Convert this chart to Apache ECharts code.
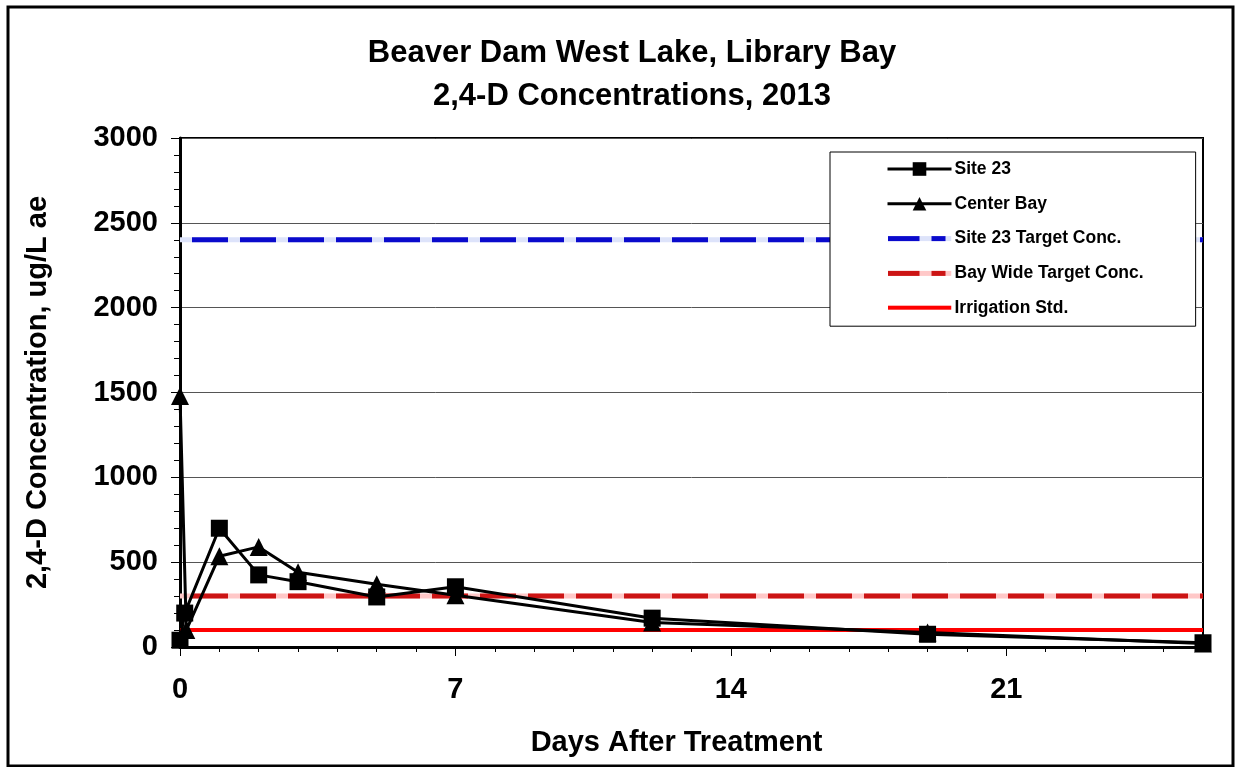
<!DOCTYPE html>
<html>
<head>
<meta charset="utf-8">
<script src="https://cdn.jsdelivr.net/npm/echarts@6/dist/echarts.min.js"></script>
<style>
html,body{margin:0;padding:0;background:#fff;}
#chart{width:1236px;height:767px;}
</style>
</head>
<body>
<div id="chart"></div>
<script>
// ---- Data ----
const titleLines = ['Beaver Dam West Lake, Library Bay', '2,4-D Concentrations, 2013'];
const xAxisName = 'Days After Treatment';
const yAxisName = '2,4-D Concentration, ug/L ae';
const xTickLabels = [0, 7, 14, 21];
const yTickValues = [0, 500, 1000, 1500, 2000, 2500, 3000];

const site23Days   = [0, 0.12, 1, 2, 3, 5, 7, 12, 19, 26];
const site23Values = [40, 200, 700, 425, 385, 295, 355, 170, 75, 25];

const centerBayDays   = [0, 0.16, 1, 2, 3, 5, 7, 12, 19, 26];
const centerBayValues = [1480, 100, 535, 590, 440, 370, 305, 145, 85, 20];

const refDays = [0, 26];
const site23Target = 2400;
const bayWideTarget = 300;
const irrigationStd = 100;

const seriesNames = ['Site 23', 'Center Bay', 'Site 23 Target Conc.', 'Bay Wide Target Conc.', 'Irrigation Std.'];

// ---- Build ----
const zip = (xs, ys) => xs.map((x, i) => [x, ys[i]]);
const flat = (v) => refDays.map(d => [d, v]);
const FONT = "'Liberation Sans', Arial, sans-serif";

function dashIcon(dark, light) {
  const svg = '<svg xmlns="http://www.w3.org/2000/svg" width="64" height="17" viewBox="0 0 64 17">' +
    (light ? '<rect x="0" y="6" width="64" height="5" fill="' + light + '"/>' : '') +
    (light
      ? '<rect x="0" y="6" width="32" height="5" fill="' + dark + '"/><rect x="44" y="6" width="14" height="5" fill="' + dark + '"/>'
      : '<rect x="0" y="6" width="64" height="4" fill="' + dark + '"/>') +
    '</svg>';
  return 'image://data:image/svg+xml;charset=utf-8,' + encodeURIComponent(svg);
}

const chart = echarts.init(document.getElementById('chart'), null, {renderer: 'canvas'});

const option = {
  backgroundColor: '#ffffff',
  animation: false,
  title: {
    text: titleLines.join('\n'),
    left: 627,
    textAlign: 'center',
    top: 27,
    textStyle: {fontFamily: FONT, fontSize: 31, fontWeight: 'bold', color: '#000', lineHeight: 43}
  },
  graphic: [{
    type: 'rect',
    shape: {x: 8, y: 7, width: 1225, height: 759},
    style: {fill: 'none', stroke: '#000', lineWidth: 3},
    silent: true, z: -1
  }],
  legend: {
    orient: 'vertical',
    left: 830,
    top: 152,
    data: [
      {name: seriesNames[0], lineStyle: {width: 3, color: '#000'}},
      {name: seriesNames[1], lineStyle: {width: 3, color: '#000'}},
      {name: seriesNames[2], icon: dashIcon('#0a0acc', '#dde3fa')},
      {name: seriesNames[3], icon: dashIcon('#cc1414', '#ffc8c8')},
      {name: seriesNames[4], icon: dashIcon('#ff0000', null)}
    ],
    backgroundColor: '#fff',
    borderColor: '#000',
    borderWidth: 1,
    padding: [8, 52, 9, 56],
    itemWidth: 64,
    itemHeight: 17,
    itemGap: 16.8,
    textStyle: {fontFamily: FONT, fontSize: 17.5, fontWeight: 'bold', color: '#000', padding: [0, 0, 0, -2]},
    z: 10
  },
  grid: {
    left: 180, right: 33, top: 138, bottom: 120,
    show: true, borderColor: '#000', borderWidth: 2, backgroundColor: 'transparent'
  },
  xAxis: [{
    type: 'value',
    min: 0, max: 26, interval: 1,
    name: xAxisName,
    nameLocation: 'middle',
    nameGap: 81,
    nameTextStyle: {fontFamily: FONT, fontSize: 29, fontWeight: 'bold', color: '#000', padding: [0, 30, 0, 0]},
    axisLine: {show: true, onZero: false, lineStyle: {color: '#000', width: 3}},
    axisTick: {show: true, inside: false, length: 5, lineStyle: {color: '#000', width: 1}},
    axisLabel: {
      customValues: xTickLabels,
      margin: 28,
      fontFamily: FONT, fontSize: 29, fontWeight: 'bold', color: '#000'
    },
    splitLine: {show: false}
  }, {
    type: 'value',
    min: 0, max: 26,
    position: 'bottom',
    axisLine: {show: false},
    axisTick: {show: true, customValues: xTickLabels, length: 9, lineStyle: {color: '#000', width: 1}},
    axisLabel: {show: false},
    splitLine: {show: false}
  }],
  yAxis: {
    type: 'value',
    min: 0, max: 3000, interval: 500,
    name: yAxisName,
    nameLocation: 'middle',
    nameGap: 128,
    nameTextStyle: {fontFamily: FONT, fontSize: 29, fontWeight: 'bold', color: '#000'},
    axisLine: {show: true, onZero: false, lineStyle: {color: '#000', width: 3}},
    axisTick: {show: true, length: 9, lineStyle: {color: '#000', width: 1}},
    minorTick: {show: true, splitNumber: 5, length: 6, lineStyle: {color: '#000', width: 1}},
    axisLabel: {
      customValues: yTickValues,
      formatter: (v) => String(v),
      margin: 22, fontFamily: FONT, fontSize: 29, fontWeight: 'bold', color: '#000'
    },
    splitLine: {show: true, lineStyle: {color: '#555', width: 1}}
  },
  series: [
    {
      name: '_s23under', type: 'line', data: flat(site23Target), symbol: 'none',
      lineStyle: {color: '#dde3fa', width: 5}, silent: true, z: 2
    },
    {
      name: seriesNames[2], type: 'line', data: flat(site23Target), symbol: 'none',
      itemStyle: {color: '#0a0acc'},
      lineStyle: {color: '#0a0acc', width: 5, type: [36, 12], dashOffset: 36}, z: 3
    },
    {
      name: '_bayunder', type: 'line', data: flat(bayWideTarget), symbol: 'none',
      lineStyle: {color: '#ffc8c8', width: 5}, silent: true, z: 2
    },
    {
      name: seriesNames[3], type: 'line', data: flat(bayWideTarget), symbol: 'none',
      itemStyle: {color: '#cc1414'},
      lineStyle: {color: '#cc1414', width: 5, type: [36, 12], dashOffset: 36}, z: 3
    },
    {
      name: seriesNames[4], type: 'line', data: flat(irrigationStd), symbol: 'none',
      itemStyle: {color: '#ff0000'},
      lineStyle: {color: '#ff0000', width: 4}, z: 3
    },
    {
      name: seriesNames[0], type: 'line', data: zip(site23Days, site23Values),
      symbol: 'rect', symbolSize: 17,
      itemStyle: {color: '#000'},
      lineStyle: {color: '#000', width: 3}, z: 5
    },
    {
      name: seriesNames[1], type: 'line', data: zip(centerBayDays, centerBayValues),
      symbol: 'triangle', symbolSize: 18,
      itemStyle: {color: '#000'},
      lineStyle: {color: '#000', width: 3}, z: 5
    }
  ]
};
chart.setOption(option);
</script>
</body>
</html>
